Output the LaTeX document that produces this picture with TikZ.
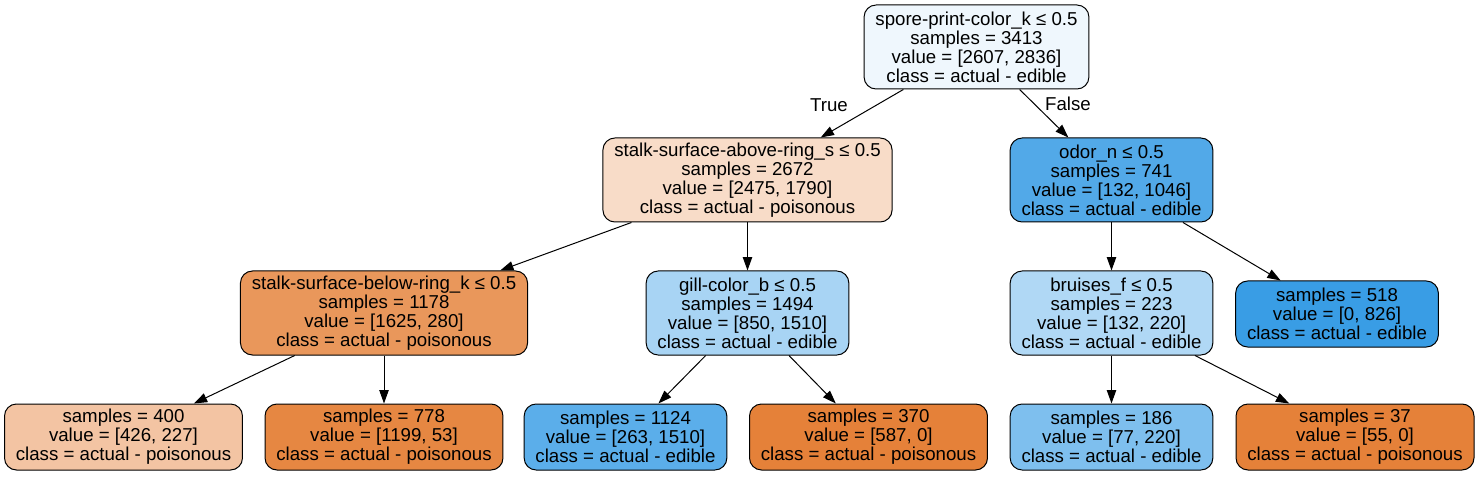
\documentclass[tikz,border=0pt]{standalone}
\usepackage{fontspec}
\setmainfont{Liberation Sans}
\usepackage{tikz}
\usetikzlibrary{arrows.meta}

\definecolor{rootfill}{HTML}{EFF7FD}
\definecolor{abovefill}{HTML}{F8DCC8}
\definecolor{odorfill}{HTML}{52A9E8}
\definecolor{belowfill}{HTML}{E9975B}
\definecolor{gillfill}{HTML}{A8D4F4}
\definecolor{bruisesfill}{HTML}{B0D8F5}
\definecolor{bluefull}{HTML}{399DE5}
\definecolor{leafpale}{HTML}{F3C4A3}
\definecolor{leafdark}{HTML}{E68742}
\definecolor{leafblue}{HTML}{5BAEEA}
\definecolor{orangefull}{HTML}{E58139}
\definecolor{leaflight}{HTML}{7EBFEE}

\tikzset{
  treenode/.style={draw, rounded corners=9pt, align=center, inner xsep=8.5pt,
    inner ysep=0pt, line width=0.75pt, font=\fontsize{14pt}{14.2pt}\selectfont},
  split/.style={treenode, minimum height=63pt},
  leaf/.style={treenode, minimum height=49.5pt},
  branch/.style={-{Triangle[length=10pt,width=7pt]}, line width=0.75pt},
}

\begin{document}
\begin{tikzpicture}[x=0.75pt,y=-0.75pt]
\useasboundingbox (0,0) rectangle (1478,477);
% split nodes
\node[split, fill=rootfill] (root) at (976.5,47) {spore-print-color\_k ≤ 0.5\\samples = 3413\\value = [2607, 2836]\\class = actual - edible};
\node[split, fill=abovefill] (above) at (747.5,180) {stalk-surface-above-ring\_s ≤ 0.5\\samples = 2672\\value = [2475, 1790]\\class = actual - poisonous};
\node[split, fill=odorfill] (odor) at (1111.5,180) {odor\_n ≤ 0.5\\samples = 741\\value = [132, 1046]\\class = actual - edible};
\node[split, fill=belowfill] (below) at (384,313) {stalk-surface-below-ring\_k ≤ 0.5\\samples = 1178\\value = [1625, 280]\\class = actual - poisonous};
\node[split, fill=gillfill] (gill) at (747.5,313) {gill-color\_b ≤ 0.5\\samples = 1494\\value = [850, 1510]\\class = actual - edible};
\node[split, fill=bruisesfill] (bruises) at (1111.5,313) {bruises\_f ≤ 0.5\\samples = 223\\value = [132, 220]\\class = actual - edible};
% leaves
\node[leaf, fill=bluefull] (leaf518) at (1337,314) {samples = 518\\value = [0, 826]\\class = actual - edible};
\node[leaf, fill=leafpale] (leaf400) at (123.5,437) {samples = 400\\value = [426, 227]\\class = actual - poisonous};
\node[leaf, fill=leafdark] (leaf778) at (384,437) {samples = 778\\value = [1199, 53]\\class = actual - poisonous};
\node[leaf, fill=leafblue] (leaf1124) at (625.5,437) {samples = 1124\\value = [263, 1510]\\class = actual - edible};
\node[leaf, fill=orangefull] (leaf370) at (868.5,437) {samples = 370\\value = [587, 0]\\class = actual - poisonous};
\node[leaf, fill=leaflight] (leaf186) at (1111.5,437) {samples = 186\\value = [77, 220]\\class = actual - edible};
\node[leaf, fill=orangefull] (leaf37) at (1355,437) {samples = 37\\value = [55, 0]\\class = actual - poisonous};
% branches
\draw[branch] (root) -- (above);
\draw[branch] (root) -- (odor);
\node[font=\fontsize{14pt}{14pt}\selectfont] (truelbl) at (829,105) {True};
\node[font=\fontsize{14pt}{14pt}\selectfont] (falselbl) at (1068,104) {False};
\draw[branch] (above) -- (below);
\draw[branch] (above) -- (gill);
\draw[branch] (odor) -- (bruises);
\draw[branch] (odor) -- (leaf518);
\draw[branch] (below) -- (leaf400);
\draw[branch] (below) -- (leaf778);
\draw[branch] (gill) -- (leaf1124);
\draw[branch] (gill) -- (leaf370);
\draw[branch] (bruises) -- (leaf186);
\draw[branch] (bruises) -- (leaf37);
\end{tikzpicture}
\end{document}
